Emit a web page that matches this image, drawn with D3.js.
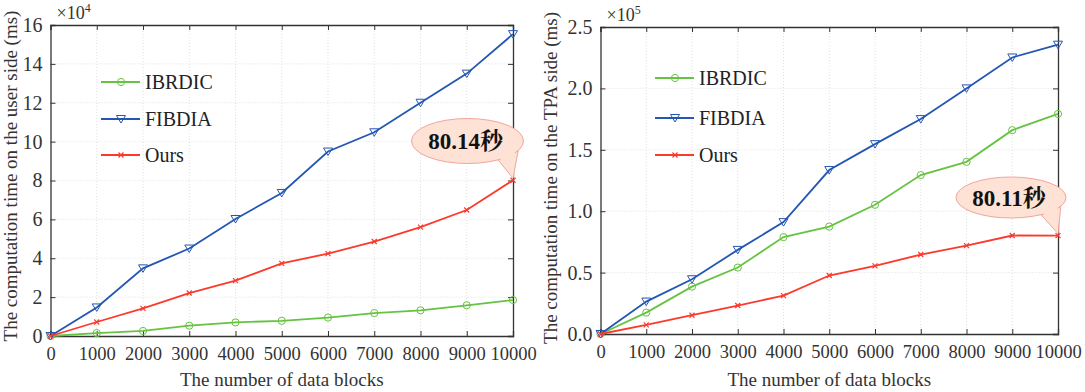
<!DOCTYPE html>
<html>
<head>
<meta charset="utf-8">
<script src="https://cdn.jsdelivr.net/npm/d3@7"></script>
<style>
  body { margin: 0; background: #fff; }
  text { font-family: "Liberation Serif", "Times New Roman", serif; }
</style>
</head>
<body>
<svg width="1085" height="392"></svg>
<script>
// x values (number of data blocks)
const blocks = [0, 1000, 2000, 3000, 4000, 5000, 6000, 7000, 8000, 9000, 10000];
const seriesNames = ['IBRDIC', 'FIBDIA', 'Ours'];

// user side, in units of 1e4 ms
const userIBRDIC = [0, 0.15, 0.26, 0.53, 0.7, 0.78, 0.95, 1.18, 1.32, 1.58, 1.85];
const userFIBDIA = [0, 1.47, 3.48, 4.5, 6.02, 7.36, 9.49, 10.48, 12.0, 13.5, 15.53];
const userOurs = [0, 0.72, 1.42, 2.21, 2.85, 3.74, 4.24, 4.86, 5.6, 6.48, 8.014];

// TPA side, in units of 1e5 ms
const tpaIBRDIC = [0, 0.174, 0.386, 0.541, 0.789, 0.875, 1.052, 1.294, 1.402, 1.66, 1.792];
const tpaFIBDIA = [0, 0.264, 0.446, 0.685, 0.911, 1.335, 1.546, 1.75, 2.0, 2.252, 2.356];
const tpaOurs = [0, 0.074, 0.153, 0.232, 0.313, 0.476, 0.555, 0.647, 0.72, 0.802, 0.8011];

const userTicks = [0, 2, 4, 6, 8, 10, 12, 14, 16];
const tpaTicks = [0, 0.5, 1.0, 1.5, 2.0, 2.5];

const colors = { IBRDIC: '#66c341', FIBDIA: '#2456b3', Ours: '#fb3a2c' };
const serif = '"Liberation Serif", "Times New Roman", serif';

const svg = d3.select('svg');

function marker(g, name, x, y) {
  const c = colors[name];
  if (name === 'IBRDIC') {
    g.append('circle').attr('cx', x).attr('cy', y).attr('r', 3.6)
      .attr('fill', 'none').attr('stroke', c).attr('stroke-width', 1);
  } else if (name === 'FIBDIA') {
    g.append('path').attr('d', `M${x - 4.5},${y - 3.5}L${x + 4.5},${y - 3.5}L${x},${y + 4}Z`)
      .attr('fill', 'none').attr('stroke', c).attr('stroke-width', 1);
  } else {
    g.append('path').attr('d', `M${x - 2.5},${y - 2.5}L${x + 2.5},${y + 2.5}M${x - 2.5},${y + 2.5}L${x + 2.5},${y - 2.5}`)
      .attr('stroke', c).attr('stroke-width', 1.2);
  }
}

function drawChart(opt) {
  const g = svg.append('g');
  const x = d3.scaleLinear().domain([0, 10000]).range([opt.left, opt.right]);
  const y = d3.scaleLinear().domain([0, opt.ticks[opt.ticks.length - 1]]).range([opt.bottom, opt.top]);

  // grid
  g.selectAll('.gx').data(blocks.slice(1, -1)).enter().append('line')
    .attr('x1', d => x(d)).attr('x2', d => x(d))
    .attr('y1', opt.top).attr('y2', opt.bottom)
    .attr('stroke', '#d8d8d8').attr('stroke-width', 0.8).attr('stroke-dasharray', '1,2');
  g.selectAll('.gy').data(opt.ticks.slice(1, -1)).enter().append('line')
    .attr('y1', d => y(d)).attr('y2', d => y(d))
    .attr('x1', opt.left).attr('x2', opt.right)
    .attr('stroke', '#d8d8d8').attr('stroke-width', 0.8).attr('stroke-dasharray', '1,2');

  // axes
  const xAxis = g.append('g').attr('transform', `translate(0,${opt.bottom})`)
    .call(d3.axisBottom(x).tickValues(blocks).tickSize(-5).tickPadding(11).tickFormat(d3.format('d')));
  const xTop = g.append('g').attr('transform', `translate(0,${opt.top})`)
    .call(d3.axisTop(x).tickValues(blocks).tickSize(-5).tickFormat(''));
  const yAxis = g.append('g').attr('transform', `translate(${opt.left},0)`)
    .call(d3.axisLeft(y).tickValues(opt.ticks).tickSize(-5).tickPadding(8).tickFormat(opt.fmt));
  const yRight = g.append('g').attr('transform', `translate(${opt.right},0)`)
    .call(d3.axisRight(y).tickValues(opt.ticks).tickSize(-5).tickFormat(''));
  [xAxis, xTop, yAxis, yRight].forEach(a => {
    a.select('.domain').attr('stroke', '#333').attr('stroke-width', 1.3);
    a.selectAll('.tick line').attr('stroke', '#333');
    a.selectAll('text').attr('font-size', 18.5).attr('fill', '#333')
      .style('font-family', serif);
  });
  yAxis.selectAll('text').attr('font-size', 20);

  // exponent
  const ex = g.append('text').attr('x', opt.left + 6).attr('y', opt.top - 6)
    .attr('font-size', 18).attr('fill', '#333');
  ex.append('tspan').text('×10');
  ex.append('tspan').text(opt.exp).attr('font-size', 12).attr('dy', -7);

  // titles
  g.append('text').attr('x', (opt.left + opt.right) / 2).attr('y', 386)
    .attr('text-anchor', 'middle').attr('font-size', 19).attr('fill', '#333')
    .text('The number of data blocks');
  g.append('text').attr('transform', `translate(${opt.titleX},${opt.titleY}) rotate(-90)`)
    .attr('text-anchor', 'middle').attr('font-size', 19).attr('fill', '#333')
    .text(opt.ylabel);

  // lines
  const line = d3.line().x((d, i) => x(blocks[i])).y(d => y(d));
  seriesNames.forEach(name => {
    const vals = opt.data[name];
    g.append('path').datum(vals).attr('d', line)
      .attr('fill', 'none').attr('stroke', colors[name]).attr('stroke-width', 1.8);
    vals.forEach((v, i) => marker(g, name, x(blocks[i]), y(v)));
  });

  // legend
  seriesNames.forEach((name, i) => {
    const ly = opt.legY[i];
    g.append('line').attr('x1', opt.legX).attr('x2', opt.legX + 39)
      .attr('y1', ly).attr('y2', ly).attr('stroke', colors[name]).attr('stroke-width', 2);
    marker(g, name, opt.legX + 20, ly);
    g.append('text').attr('x', opt.legX + 44).attr('y', ly + 7)
      .attr('font-size', 20).attr('fill', '#222').text(name);
  });

  // callout
  const last = opt.data.Ours[opt.data.Ours.length - 1];
  const tipX = x(10000), tipY = y(last) - 2;
  const c = opt.callout;
  const p = a => [c.cx + c.rx * Math.cos(a * Math.PI / 180), c.cy + c.ry * Math.sin(a * Math.PI / 180)];
  const b1 = p(57), b2 = p(25);
  const tail = `M${b1[0]},${b1[1]}L${tipX},${tipY}L${b2[0]},${b2[1]}Z`;
  g.append('path').attr('d', tail).attr('fill', '#fde2d5').attr('stroke', '#f1a59c').attr('stroke-width', 1);
  g.append('ellipse').attr('cx', c.cx).attr('cy', c.cy).attr('rx', c.rx).attr('ry', c.ry)
    .attr('fill', '#fde2d5').attr('stroke', '#f1a59c').attr('stroke-width', 1);
  const i1 = p(54), i2 = p(28);
  g.append('path').attr('d', `M${i1[0] - 1},${i1[1] - 2}L${tipX},${tipY}L${i2[0] - 2},${i2[1] - 1}Z`)
    .attr('fill', '#fde2d5');
  g.append('text').attr('x', c.cx - 2).attr('y', c.cy + 8).attr('text-anchor', 'middle')
    .attr('font-size', 23).attr('font-weight', 'bold').attr('fill', '#111')
    .style('font-family', '"Liberation Serif", "Noto Serif CJK SC", "Noto Sans CJK SC", serif')
    .text(c.label);
}

drawChart({
  left: 50.5, right: 513, top: 25, bottom: 336,
  ticks: userTicks, fmt: d3.format('d'), exp: '4',
  data: { IBRDIC: userIBRDIC, FIBDIA: userFIBDIA, Ours: userOurs },
  ylabel: 'The computation time on the user side (ms)', titleX: 17, titleY: 176,
  legX: 101, legY: [82, 119, 155],
  callout: { cx: 467.5, cy: 141, rx: 56, ry: 22.5, label: '80.14秒' }
});

drawChart({
  left: 600.5, right: 1058, top: 27, bottom: 334,
  ticks: tpaTicks, fmt: d3.format('.1f'), exp: '5',
  data: { IBRDIC: tpaIBRDIC, FIBDIA: tpaFIBDIA, Ours: tpaOurs },
  ylabel: 'The computation time on the TPA side (ms)', titleX: 557, titleY: 178,
  legX: 655, legY: [78, 118, 155],
  callout: { cx: 1011, cy: 197.5, rx: 55, ry: 20.5, label: '80.11秒' }
});
</script>
</body>
</html>
